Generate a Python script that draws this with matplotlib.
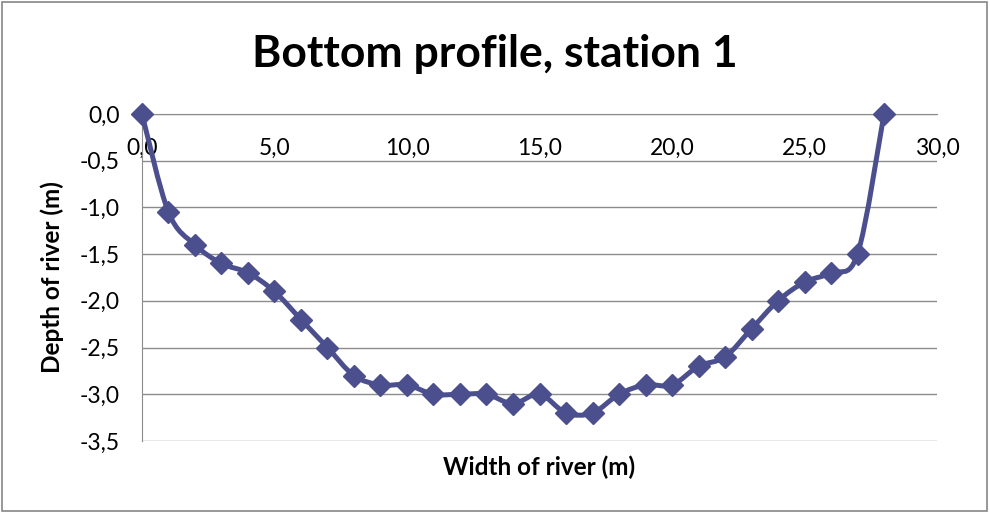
import numpy as np
import matplotlib.pyplot as plt
from matplotlib.path import Path
from matplotlib.patches import PathPatch, Rectangle
from matplotlib.ticker import FuncFormatter, MultipleLocator

plt.rcParams['font.family'] = ['Lato', 'DejaVu Sans']

# bottom profile measurements, station 1
width_m = np.arange(0, 29)
depth_m = [0.0, -1.05, -1.4, -1.6, -1.7, -1.9, -2.2, -2.5, -2.8, -2.9,
           -2.9, -3.0, -3.0, -3.0, -3.1, -3.0, -3.2, -3.2, -3.0, -2.9,
           -2.9, -2.7, -2.6, -2.3, -2.0, -1.8, -1.7, -1.5, 0.0]

line_col = '#4b4f8e'
grid_col = '#8c8c8c'

fig = plt.figure(figsize=(9.9, 5.13), dpi=100)
ax = fig.add_axes([0.1434, 0.1404, 0.8031, 0.6374])

# smoothed line through the points (cardinal spline as cubic bezier segments)
pts = np.column_stack([width_m, depth_m]).astype(float)
n = len(pts)
verts = [pts[0]]
codes = [Path.MOVETO]
for i in range(n - 1):
    p_prev = pts[max(i - 1, 0)]
    p0 = pts[i]
    p1 = pts[i + 1]
    p_next = pts[min(i + 2, n - 1)]
    c1 = p0 + (p1 - p_prev) / 6.0
    c2 = p1 - (p_next - p0) / 6.0
    verts += [c1, c2, p1]
    codes += [Path.CURVE4] * 3
ax.add_patch(PathPatch(Path(verts, codes), facecolor='none', edgecolor=line_col,
                       lw=3.6, capstyle='round', joinstyle='round', zorder=3,
                       clip_on=False))
ax.plot(width_m, depth_m, linestyle='none', marker='D', markersize=11,
        color=line_col, zorder=4, clip_on=False)

ax.set_xlim(0, 30)
ax.set_ylim(-3.5, 0)
ax.xaxis.set_major_locator(MultipleLocator(5))
ax.yaxis.set_major_locator(MultipleLocator(0.5))
comma = FuncFormatter(lambda v, p: f"{v:.1f}".replace('.', ',').replace('-0,0', '0,0'))
ax.xaxis.set_major_formatter(comma)
ax.yaxis.set_major_formatter(comma)

ax.grid(axis='y', color=grid_col, lw=1)
ax.set_axisbelow(True)
for s in ['top', 'right']:
    ax.spines[s].set_visible(False)
ax.spines['bottom'].set_position(('data', 0))
ax.spines['bottom'].set_color(grid_col)
ax.spines['left'].set_color(grid_col)
ax.tick_params(axis='both', length=0, labelsize=16.5)
ax.tick_params(axis='x', pad=17)
ax.tick_params(axis='y', pad=16)

fig.text(0.5, 0.895, 'Bottom profile, station 1', fontsize=32, fontweight='bold',
         ha='center', va='center')
ax.set_xlabel('Width of river (m)', fontsize=17.5, fontweight='bold', labelpad=0)
ax.xaxis.set_label_coords(0.5, -0.043)
ax.set_ylabel('Depth of river (m)', fontsize=17.5, fontweight='bold')
ax.yaxis.set_label_coords(-0.098, 0.5)

fig.patches.append(Rectangle((0.002, 0.003), 0.995, 0.993, transform=fig.transFigure,
                             fill=False, edgecolor='#868686', lw=1.2))

fig.savefig('out.png', dpi=100)
